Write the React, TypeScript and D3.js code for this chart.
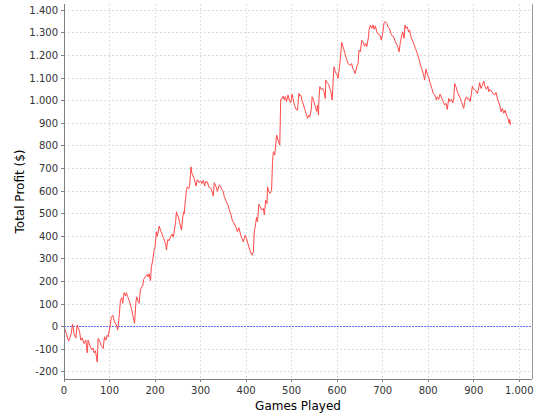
import React from "react";
import * as d3 from "d3";

const games: number[] = [
  0, 5, 10, 15, 19, 22, 26, 29, 34, 37, 40, 44, 48, 51, 53, 58, 61, 64, 66, 69, 73, 75, 79, 81, 84, 86, 89, 92, 95, 97,
  101, 104, 107, 111, 115, 118, 121, 124, 127, 129, 132, 135, 137, 140, 144, 148, 151, 155, 158, 160, 163, 165, 168, 171, 173, 175, 180, 183, 185, 187,
  190, 192, 195, 198, 200, 203, 205, 209, 213, 218, 223, 225, 228, 231, 234, 238, 240, 245, 247, 251, 254, 258, 261, 263, 264, 267, 269, 271, 274, 276,
  279, 281, 286, 290, 293, 297, 300, 303, 306, 309, 311, 315, 318, 322, 325, 328, 330, 334, 337, 341, 344, 346, 350, 352, 355, 360, 363, 367, 370, 374,
  378, 381, 384, 387, 390, 394, 398, 401, 406, 410, 413, 416, 418, 421, 423, 425, 428, 431, 434, 438, 440, 443, 446, 447, 450, 453, 456, 458, 460, 463,
  467, 470, 474, 476, 479, 481, 484, 486, 489, 492, 495, 498, 501, 503, 506, 510, 513, 516, 518, 520, 523, 526, 529, 533, 535, 538, 540, 543, 545, 548,
  553, 555, 557, 559, 560, 562, 565, 568, 571, 574, 575, 578, 581, 584, 587, 589, 591, 593, 596, 600, 602, 606, 610, 613, 617, 620, 624, 628, 632, 634,
  637, 639, 641, 644, 646, 648, 651, 654, 657, 660, 663, 665, 669, 670, 673, 676, 679, 681, 684, 687, 690, 694, 697, 700, 703, 706, 709, 712, 715, 718,
  721, 724, 727, 730, 733, 736, 739, 742, 744, 747, 749, 751, 754, 757, 759, 762, 765, 768, 772, 776, 780, 783, 787, 790, 792, 795, 798, 801, 804, 808,
  811, 815, 818, 820, 823, 826, 830, 833, 836, 839, 842, 845, 848, 851, 854, 856, 858, 861, 864, 867, 870, 873, 876, 878, 881, 884, 887, 889, 892, 895,
  897, 899, 902, 905, 908, 911, 913, 916, 919, 922, 925, 928, 931, 933, 936, 939, 942, 946, 949, 953, 957, 960, 963, 966, 969, 972, 976, 978, 979, 981,
];

const profit: number[] = [
  0, -30, -64, -38, 10, -30, -51, 7, -20, -60, -50, -75, -60, -116, -60, -90, -103, -95, -116, -107, -157, -52, -67, -82, -90, -97, -45, -60, -38, -45,
  0, 41, 51, 21, 7, -15, 41, 117, 128, 103, 150, 136, 150, 132, 110, 81, 51, 14, 110, 132, 110, 103, 165, 176, 180, 209, 225, 230, 220, 234,
  203, 265, 294, 340, 353, 420, 400, 445, 420, 395, 368, 339, 386, 380, 398, 410, 395, 460, 508, 485, 462, 427, 485, 508, 500, 567, 604, 619, 612, 625,
  707, 678, 655, 622, 650, 637, 645, 633, 648, 622, 642, 640, 618, 613, 598, 578, 637, 620, 598, 627, 622, 608, 598, 575, 560, 539, 517, 495, 468, 456,
  438, 420, 438, 415, 395, 375, 405, 390, 353, 330, 316, 331, 420, 457, 483, 464, 542, 530, 516, 523, 494, 560, 545, 619, 597, 590, 604, 730, 774, 760,
  848, 826, 803, 1006, 1010, 1020, 1003, 1018, 996, 1025, 1003, 991, 1029, 1010, 981, 961, 958, 1032, 1020, 1025, 1000, 981, 961, 936, 922, 936, 929, 958, 1017, 1003,
  966, 952, 981, 936, 1010, 1062, 1050, 1054, 1040, 1010, 1091, 1080, 1073, 1054, 1032, 1003, 1080, 1150, 1128, 1113, 1099, 1164, 1258, 1239, 1210, 1187, 1164, 1157, 1164, 1142,
  1135, 1120, 1132, 1157, 1164, 1224, 1217, 1268, 1261, 1241, 1253, 1239, 1283, 1313, 1335, 1320, 1335, 1316, 1331, 1305, 1295, 1290, 1268, 1298, 1345, 1350, 1342, 1325, 1320, 1298,
  1287, 1283, 1265, 1253, 1239, 1216, 1261, 1290, 1305, 1276, 1335, 1320, 1327, 1305, 1313, 1283, 1268, 1253, 1231, 1209, 1183, 1157, 1135, 1113, 1091, 1140, 1118, 1103, 1080, 1054,
  1032, 1025, 1003, 1017, 1006, 1029, 1010, 996, 981, 988, 961, 1010, 996, 1006, 991, 1003, 1076, 1062, 1040, 1025, 1014, 996, 976, 966, 1003, 1017, 1006, 1010, 996, 1032,
  1065, 1054, 1047, 1043, 1032, 1058, 1080, 1054, 1069, 1087, 1062, 1050, 1065, 1040, 1050, 1043, 1032, 1025, 1036, 1003, 981, 951, 966, 944, 958, 936, 917, 900, 917, 893,
];

const xTicks: number[] = [0, 100, 200, 300, 400, 500, 600, 700, 800, 900, 1000];
const yTicks: number[] = [-200, -100, 0, 100, 200, 300, 400, 500, 600, 700, 800, 900, 1000, 1100, 1200, 1300, 1400];
const xLabel = "Games Played";
const yLabel = "Total Profit ($)";

const W = 540;
const H = 420;
const left = 64;
const right = 532;
const top = 4;
const bottom = 379;

const locale = d3.formatLocale({ decimal: ",", thousands: ".", grouping: [3], currency: ["", "$"], minus: "-" });
const fmt = locale.format(",.0f");

export default function App() {
  const x = d3.scaleLinear().domain([0, 1028]).range([left, right]);
  const y = d3.scaleLinear().domain([-232, 1428]).range([bottom, top]);
  const pts: [number, number][] = games.map((g, i) => [g, profit[i]]);
  const line = d3
    .line<[number, number]>()
    .x((d) => x(d[0]))
    .y((d) => y(d[1]));
  const font = "'DejaVu Sans', sans-serif";
  return (
    <svg
      width={W}
      height={H}
      style={{ position: "absolute", left: 0, top: 0, background: "#fff" }}
      fontFamily={font}
    >
      <rect x={0} y={0} width={W} height={H} fill="#fff" />
      <rect x={left} y={top} width={right - left} height={bottom - top} fill="#fff" />
      {xTicks.map((t) => (
        <line key={"gx" + t} x1={x(t)} x2={x(t)} y1={top} y2={bottom} stroke="#dddddd" strokeWidth={1} strokeDasharray="2,2" shapeRendering="crispEdges" />
      ))}
      {yTicks.map((t) => (
        <line key={"gy" + t} x1={left} x2={right} y1={y(t)} y2={y(t)} stroke="#dddddd" strokeWidth={1} strokeDasharray="2,2" shapeRendering="crispEdges" />
      ))}
      <line x1={left} x2={right} y1={y(0)} y2={y(0)} stroke="#6c6cff" strokeWidth={1} strokeDasharray="2,1" shapeRendering="crispEdges" />
      <path d={line(pts) || ""} fill="none" stroke="#ff4848" strokeWidth={1} strokeLinejoin="round" />
      <line x1={right} x2={right} y1={top} y2={bottom} stroke="#999" strokeWidth={1} shapeRendering="crispEdges" />
      <line x1={left} x2={left} y1={top} y2={bottom} stroke="#808080" strokeWidth={1} shapeRendering="crispEdges" />
      <line x1={left} x2={right} y1={bottom} y2={bottom} stroke="#808080" strokeWidth={1} shapeRendering="crispEdges" />
      {yTicks.map((t) => (
        <g key={"ty" + t}>
          <line x1={left - 3} x2={left} y1={y(t)} y2={y(t)} stroke="#808080" shapeRendering="crispEdges" />
          <text x={left - 6} y={y(t)} dy="0.35em" textAnchor="end" fontSize={10} fill="#333">
            {fmt(t)}
          </text>
        </g>
      ))}
      {xTicks.map((t) => (
        <g key={"tx" + t}>
          <line x1={x(t)} x2={x(t)} y1={bottom} y2={bottom + 3} stroke="#808080" shapeRendering="crispEdges" />
          <text x={x(t)} y={bottom + 15} textAnchor="middle" fontSize={10} fill="#333">
            {fmt(t)}
          </text>
        </g>
      ))}
      <text x={(left + right) / 2} y={410} textAnchor="middle" fontSize={12} fill="#000">
        {xLabel}
      </text>
      <text
        transform={`translate(24,${(top + bottom) / 2}) rotate(-90)`}
        textAnchor="middle"
        fontSize={12}
        fill="#000"
      >
        {yLabel}
      </text>
    </svg>
  );
}
